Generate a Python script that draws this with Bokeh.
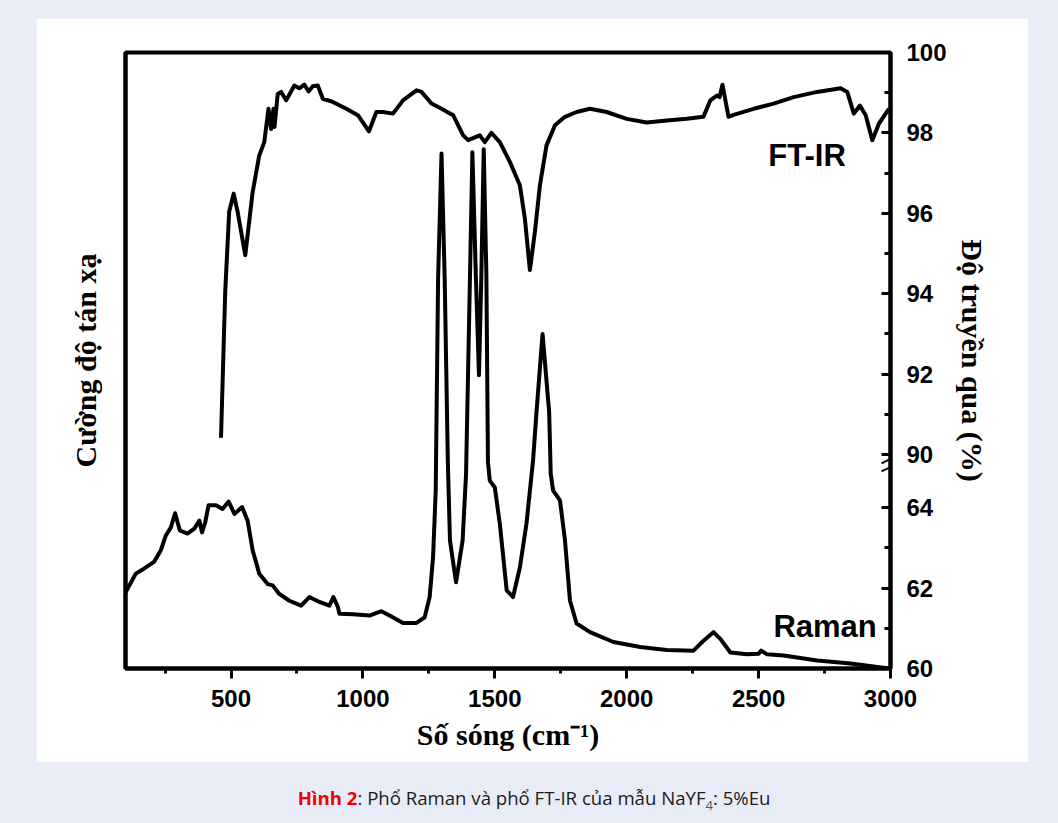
from bokeh.plotting import figure
from bokeh.models import (Range1d, LinearAxis, FixedTicker, CustomJSTickFormatter,
                          Label, Arrow, Div, ColumnDataSource)
from bokeh.layouts import column
from bokeh.embed import file_html
from bokeh.resources import INLINE

# ---------------- data ----------------
FTIR_WN = [462, 478, 493, 510, 525, 554, 582, 607, 626, 642, 652, 661, 665, 677, 690,
           709, 740, 759, 778, 794, 810, 829, 848, 886, 937, 981, 1023, 1051, 1076,
           1114, 1152, 1203, 1222, 1260, 1298, 1342, 1380, 1399, 1443, 1462, 1487,
           1519, 1557, 1595, 1614, 1633, 1652, 1671, 1696, 1728, 1766, 1810, 1861,
           1924, 2000, 2076, 2152, 2228, 2291, 2317, 2342, 2352, 2363, 2386, 2405,
           2481, 2557, 2633, 2722, 2811, 2836, 2861, 2884, 2906, 2931, 2956, 2994]
FTIR_T = [90.42, 94.05, 96.04, 96.49, 96.04, 94.96, 96.53, 97.44, 97.77, 98.60, 98.10,
          98.60, 98.15, 98.97, 99.02, 98.81, 99.18, 99.11, 99.20, 99.03, 99.16, 99.18,
          98.85, 98.77, 98.60, 98.44, 98.04, 98.52, 98.52, 98.48, 98.81, 99.06, 99.02,
          98.73, 98.60, 98.44, 97.94, 97.82, 97.94, 97.77, 98.00, 97.77, 97.28, 96.70,
          95.87, 94.59, 95.54, 96.70, 97.69, 98.19, 98.40, 98.52, 98.60, 98.52, 98.35,
          98.26, 98.31, 98.35, 98.40, 98.81, 98.93, 98.89, 99.20, 98.40, 98.45, 98.60,
          98.73, 98.89, 99.02, 99.11, 99.02, 98.48, 98.68, 98.44, 97.82, 98.23, 98.60]

RAMAN_WN = [101, 139, 170, 208, 234, 253, 272, 288, 306, 335, 361, 380, 390, 402, 415,
            443, 468, 491, 513, 542, 563, 582, 607, 639, 658, 683, 721, 766, 797, 835,
            873, 888, 905, 911, 962, 1025, 1070, 1101, 1152, 1203, 1234, 1253, 1266,
            1276, 1285, 1298, 1310, 1322, 1330, 1353, 1378, 1391, 1406, 1415, 1428,
            1440, 1449, 1458, 1468, 1474, 1481, 1500, 1519, 1545, 1569, 1595, 1620,
            1645, 1658, 1681, 1706, 1712, 1721, 1747, 1766, 1785, 1810, 1861, 1950,
            2051, 2152, 2253, 2291, 2329, 2355, 2393, 2456, 2500, 2510, 2532, 2595,
            2722, 2849, 2994]
RAMAN_I = [12.4, 15.4, 16.2, 17.3, 19.2, 21.6, 22.9, 25.2, 22.4, 21.9, 22.7, 24.0, 22.1,
           23.7, 26.5, 26.5, 25.9, 27.1, 25.1, 26.2, 24.0, 19.2, 15.4, 13.7, 13.5, 12.1,
           11.0, 10.2, 11.6, 10.8, 10.2, 11.6, 10.0, 8.9, 8.8, 8.6, 9.3, 8.6, 7.4, 7.4,
           8.3, 11.6, 18.1, 28.9, 63.3, 83.6, 63.3, 33.5, 20.8, 14.0, 20.8, 31.6, 63.9,
           83.8, 63.9, 47.6, 63.9, 84.3, 63.9, 33.5, 30.5, 29.4, 23.5, 12.7, 11.6, 16.4,
           23.5, 33.8, 41.6, 54.3, 41.6, 31.6, 28.9, 27.3, 20.8, 11.0, 7.3, 5.9, 4.3,
           3.5, 3.0, 2.9, 4.5, 5.9, 4.8, 2.6, 2.3, 2.4, 2.9, 2.3, 2.1, 1.3, 0.8, 0.0]

X_TICKS = [500, 1000, 1500, 2000, 2500, 3000]
X_MINOR = [250, 750, 1250, 1750, 2250, 2750]
RIGHT_TICKS = [60, 62, 64, 90, 92, 94, 96, 98, 100]
RIGHT_MINOR = [61, 63, 91, 93, 95, 97, 99]

# ---------------- broken right axis mapping ----------------
GAP = 5.32          # axis position of the value 90 (lower segment 60..64 -> 0..4)
TOP = GAP + 10.0


def to_axis(v):
    return v - 90.0 + GAP if v >= 89 else v - 60.0


BG = "#e8ecf7"
FONT_SANS = "Liberation Sans"
FONT_SERIF = "Liberation Serif"
LW = 4

p = figure(width=992, height=744, x_range=Range1d(100, 3000), y_range=Range1d(0, TOP),
           output_backend="svg", toolbar_location=None, y_axis_location=None,
           min_border_left=89, min_border_right=138, min_border_top=34,
           min_border_bottom=94, background_fill_color="white",
           border_fill_color="white")
p.extra_y_ranges = {"raman": Range1d(0, 100)}
p.grid.visible = False
p.outline_line_color = "black"
p.outline_line_width = LW
p.margin = (18, 30, 0, 36)

# bottom axis
xa = p.xaxis[0]
xa.ticker = FixedTicker(ticks=X_TICKS, minor_ticks=X_MINOR)
xa.axis_line_width = LW
xa.major_tick_out = 10
xa.major_tick_in = 0
xa.minor_tick_out = 5
xa.minor_tick_in = 0
xa.major_tick_line_width = 3
xa.minor_tick_line_width = 3
xa.major_label_text_font = FONT_SANS
xa.major_label_text_font_style = "bold"
xa.major_label_text_font_size = "24px"
xa.major_label_text_color = "black"
xa.major_label_standoff = 11
xa.axis_label = "Số sóng (cm⁻¹)"
xa.axis_label_text_font = FONT_SERIF
xa.axis_label_text_font_style = "bold"
xa.axis_label_text_font_size = "30px"
xa.axis_label_text_color = "black"
xa.axis_label_standoff = 8

# left axis (Raman intensity, no ticks)
la = LinearAxis(y_range_name="raman", ticker=FixedTicker(ticks=[]),
                axis_label="Cường độ tán xạ")
la.axis_line_width = LW
la.major_tick_out = 0
la.major_tick_in = 0
la.minor_tick_out = 0
la.minor_tick_in = 0
la.major_label_standoff = 0
la.axis_label_text_font = FONT_SERIF
la.axis_label_text_font_style = "bold"
la.axis_label_text_font_size = "30px"
la.axis_label_text_color = "black"
la.axis_label_standoff = 24
p.add_layout(la, "left")

# right axis (FT-IR transmittance, broken)
ra = LinearAxis(ticker=FixedTicker(ticks=[to_axis(v) for v in RIGHT_TICKS],
                                   minor_ticks=[to_axis(v) for v in RIGHT_MINOR]),
                formatter=CustomJSTickFormatter(args=dict(gap=GAP), code="""
                    if (tick <= 4.5) { return (tick + 60).toFixed(0); }
                    return (tick - gap + 90).toFixed(0);
                """),
                axis_label="Độ truyền qua (%)")
ra.axis_line_width = LW
ra.major_tick_in = 9
ra.major_tick_out = 0
ra.minor_tick_in = 6
ra.minor_tick_out = 0
ra.major_tick_line_width = 3
ra.minor_tick_line_width = 3
ra.major_label_text_font = FONT_SANS
ra.major_label_text_font_style = "bold"
ra.major_label_text_font_size = "24px"
ra.major_label_text_color = "black"
ra.major_label_standoff = 16
ra.axis_label_text_font = FONT_SERIF
ra.axis_label_text_font_style = "bold"
ra.axis_label_text_font_size = "30px"
ra.axis_label_text_color = "black"
ra.axis_label_standoff = 6
p.add_layout(ra, "right")

# curves
ftir_src = ColumnDataSource(dict(x=FTIR_WN, y=[to_axis(v) for v in FTIR_T]))
raman_src = ColumnDataSource(dict(x=RAMAN_WN, y=RAMAN_I))
p.line("x", "y", source=ftir_src, line_color="black", line_width=LW, line_join="round")
p.line("x", "y", source=raman_src, y_range_name="raman", line_color="black",
       line_width=LW, line_join="round")

# series labels
p.add_layout(Label(x=2537, y=to_axis(97.44), text="FT-IR", text_font=FONT_SANS,
                   text_font_style="bold", text_font_size="31px", text_color="black",
                   text_baseline="middle", text_align="left"))
p.add_layout(Label(x=2556, y=6.8, y_range_name="raman", text="Raman", text_font=FONT_SANS,
                   text_font_style="bold", text_font_size="31px", text_color="black",
                   text_baseline="middle", text_align="left"))

# axis break marks on the right axis
for dy in (0.0, -0.2):
    p.add_layout(Arrow(end=None, start=None, x_start=2966, y_start=GAP - 0.22 + dy,
                       x_end=3027, y_end=GAP - 0.02 + dy, line_width=2,
                       line_color="black"))

caption = Div(text=(
    "<div style=\"width:1058px;text-align:center;font-family:'Open Sans',sans-serif;"
    "font-size:18.6px;color:#1c1c1c;padding-top:20px;line-height:1.2\">"
    "<span style=\"color:#f20000;font-weight:bold\">Hình 2</span>: Phổ Raman và phổ FT-IR "
    "của mẫu NaYF<sub style=\"font-size:13px;color:#555\">4</sub>: 5%Eu</div>"),
    width=1058, height=61)

layout = column(p, caption, styles={"background-color": BG}, width=1058, height=823)

open("out.html", "w").write(file_html(layout, INLINE))
